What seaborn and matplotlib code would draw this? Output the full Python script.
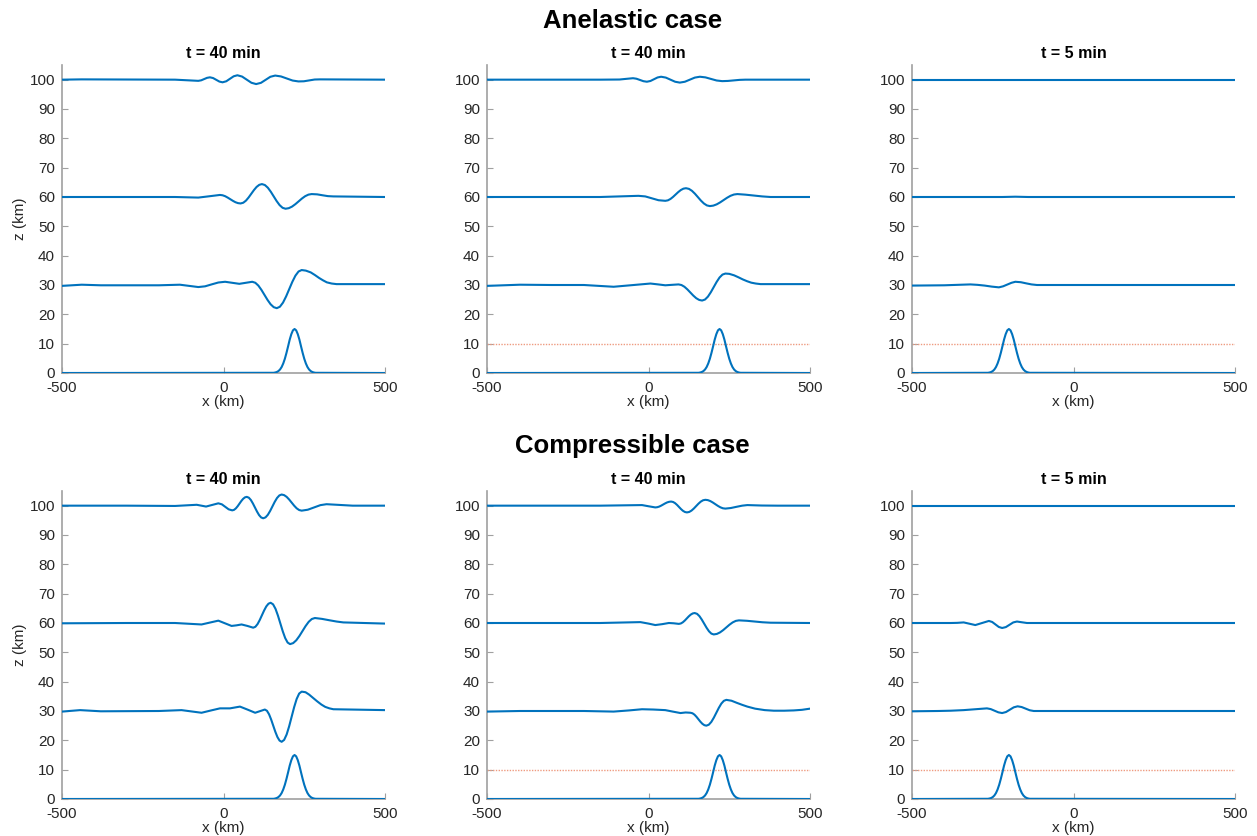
import matplotlib
matplotlib.use("Agg")
import matplotlib.pyplot as plt
import seaborn as sns

# ---------------------------------------------------------------------------
# Mountain profile (terrain height, km) at the two output times
mtn40_x = [-500, 155, 160, 165, 170, 175, 180, 185, 190, 195, 200, 205, 210, 215, 220,
           225, 230, 235, 240, 245, 250, 255, 260, 265, 270, 275, 280, 285, 500]
mtn40_z = [0.0, 0.07, 0.17, 0.34, 0.66, 1.19, 2.03, 3.26, 4.87, 6.87, 9.10, 11.39, 13.24, 14.54,
           15.0, 14.54, 13.24, 11.39, 9.10, 6.87, 4.87, 3.26, 2.03, 1.19, 0.66, 0.34, 0.17, 0.07, 0.0]
mtn5_x = [-500, -265, -260, -255, -250, -245, -240, -235, -230, -225, -220, -215, -210, -205,
          -200, -195, -190, -185, -180, -175, -170, -165, -160, -155, -150, -145, -140, -135, 500]
mtn5_z = [0.0, 0.07, 0.17, 0.34, 0.66, 1.19, 2.03, 3.26, 4.87, 6.87, 9.10, 11.39, 13.24, 14.54,
          15.0, 14.54, 13.24, 11.39, 9.10, 6.87, 4.87, 3.26, 2.03, 1.19, 0.66, 0.34, 0.17, 0.07, 0.0]

# Reference level shown as a dotted line (km)
ref_level = 10.0

# ---------------------------------------------------------------------------
# Anelastic, panel 1 (t = 40 min)
an1_x100 = [-500, -440, -150, -78, -69, -60, -51, -42, -32.25, -22.5, -12.75, -3, 8.5, 20, 31.5,
            43, 57.5, 72, 86.5, 101, 116, 130.5, 145, 160, 178, 196, 214, 232, 248.75, 265.5,
            282.25, 299, 500]
an1_z100 = [100.0, 100.1, 100.0, 99.6, 99.78, 100.2, 100.62, 100.8, 100.55, 99.95, 99.35, 99.1,
            99.45, 100.3, 101.15, 101.5, 101.06, 100.0, 98.94, 98.5, 98.92, 99.95, 100.98, 101.4,
            101.1, 100.4, 99.7, 99.4, 99.45, 99.75, 100.05, 100.1, 100.0]
an1_x60 = [-500, -300, -150, -78, -44, -11, -3, 5, 13, 21, 29, 37, 45, 53, 61.25, 69.5, 77.75, 86,
           94.25, 102.5, 110.75, 119, 128.1, 137.25, 146.4, 155.5, 164.6, 173.75, 182.9, 192,
           202.1, 212.25, 222.4, 232.5, 242.6, 252.75, 262.9, 273, 290, 306, 323, 340, 500]
an1_z60 = [60.0, 60.0, 60.0, 59.8, 60.25, 60.7, 60.59, 60.28, 59.8, 59.25, 58.7, 58.22, 57.91,
           57.8, 58.05, 58.76, 59.84, 61.1, 62.36, 63.44, 64.15, 64.4, 64.08, 63.17, 61.8, 60.2,
           58.6, 57.23, 56.32, 56.0, 56.19, 56.73, 57.55, 58.5, 59.46, 60.27, 60.81, 61.0, 60.9,
           60.6, 60.3, 60.2, 60.0]
an1_x30 = [-500, -439, -380, -200, -135, -78, -57, -37, -16, 5, 27, 49, 69, 89, 98.5, 108, 117.5,
           127, 136.5, 146, 155.5, 165, 174.6, 184.25, 193.9, 203.5, 213.1, 222.75, 232.4, 242,
           255, 270, 283, 296, 308, 320, 335, 350, 500]
an1_z30 = [29.7, 30.1, 29.9, 29.9, 30.1, 29.3, 29.55, 30.2, 30.85, 31.1, 30.75, 30.4, 30.75, 31.1,
           30.76, 29.79, 28.32, 26.6, 24.88, 23.41, 22.44, 22.1, 22.59, 24.0, 26.12, 28.6, 31.08,
           33.2, 34.61, 35.1, 34.9, 34.3, 33.4, 32.4, 31.6, 30.9, 30.5, 30.3, 30.3]

# Anelastic, panel 2 (t = 40 min)
an2_x100 = [-500, -150, -90, -48, -37.25, -26.5, -15.75, -5, 6, 17, 28, 39, 53.5, 68, 82.5, 97,
            112.5, 128, 143.5, 159, 176.25, 193.5, 210.75, 228, 246, 264, 282, 300, 500]
an2_z100 = [100.0, 100.0, 100.05, 100.5, 100.32, 99.9, 99.48, 99.3, 99.55, 100.15, 100.75, 101.0,
            100.71, 100.0, 99.29, 99.0, 99.29, 100.0, 100.71, 101.0, 100.78, 100.25, 99.72, 99.5,
            99.57, 99.75, 99.93, 100.0, 100.0]
an2_x60 = [-500, -150, -31, -10, 10.5, 31, 52, 60, 68, 76, 84, 92, 100, 108, 116, 125.25, 134.5,
           143.75, 153, 162.25, 171.5, 180.75, 190, 200.6, 211.25, 221.9, 232.5, 243.1, 253.75,
           264.4, 275, 300, 326, 352, 378, 500]
an2_z60 = [60.0, 60.0, 60.4, 60.2, 59.55, 58.9, 58.7, 58.86, 59.33, 60.03, 60.85, 61.67, 62.37,
           62.84, 63.0, 62.77, 62.11, 61.12, 59.95, 58.78, 57.79, 57.13, 56.9, 57.06, 57.5, 58.17,
           58.95, 59.73, 60.4, 60.84, 61.0, 60.8, 60.5, 60.2, 60.0, 60.0]
an2_x30 = [-500, -398, -300, -200, -108, -51, 6, 30, 52, 72, 93, 102.1, 111.25, 120.4, 129.5,
           138.6, 147.75, 156.9, 166, 175, 184, 193, 202, 211, 220, 229, 238, 250, 265, 279, 292,
           305, 318, 332, 347, 500]
an2_z30 = [29.7, 30.1, 30.0, 30.0, 29.4, 29.95, 30.5, 30.2, 29.9, 30.05, 30.2, 29.99, 29.4, 28.5,
           27.45, 26.4, 25.5, 24.91, 24.7, 25.05, 26.04, 27.54, 29.3, 31.06, 32.56, 33.55, 33.9,
           33.8, 33.3, 32.6, 31.9, 31.3, 30.8, 30.5, 30.3, 30.3]

# Anelastic, panel 3 (t = 5 min)
an3_x100 = [-500, 500]
an3_z100 = [100.0, 100.0]
an3_x60 = [-500, -220, -180, -140, 500]
an3_z60 = [60.0, 60.0, 60.1, 60.0, 60.0]
an3_x30 = [-500, -400, -360, -319, -297, -275, -253, -231, -218, -205, -192, -180, -163, -146,
           -130, -113, 500]
an3_z30 = [29.8, 29.9, 30.05, 30.2, 30.05, 29.8, 29.45, 29.2, 29.55, 30.15, 30.75, 31.1, 30.95,
           30.55, 30.2, 30.0, 30.0]

# ---------------------------------------------------------------------------
# Compressible, panel 1 (t = 40 min)
co1_x100 = [-500, -300, -150, -83, -54, -35, -16, -5, 5.5, 16, 27, 32.6, 38.25, 43.9, 49.5, 55.1,
            60.75, 66.4, 72, 78.4, 84.75, 91.1, 97.5, 103.9, 110.25, 116.6, 123, 130.1, 137.25,
            144.4, 151.5, 158.6, 165.75, 172.9, 180, 187.75, 195.5, 203.25, 211, 218.75, 226.5,
            234.25, 242, 261, 280.5, 300, 319, 400, 500]
co1_z100 = [100.0, 100.0, 99.9, 100.3, 99.7, 100.25, 100.8, 100.45, 99.6, 98.75, 98.4, 98.57,
            99.07, 99.82, 100.7, 101.58, 102.33, 102.83, 103.0, 102.72, 101.93, 100.74, 99.35,
            97.96, 96.77, 95.98, 95.7, 96.01, 96.88, 98.2, 99.75, 101.3, 102.62, 103.49, 103.8,
            103.59, 103.0, 102.1, 101.05, 100.0, 99.1, 98.51, 98.3, 98.62, 99.4, 100.18, 100.5,
            100.0, 100.0]
co1_x60 = [-500, -300, -150, -68, -42, -16, 4.5, 25, 40, 56, 74, 92, 98.75, 105.5, 112.25, 119,
           125.75, 132.5, 139.25, 146, 153.5, 161, 168.5, 176, 183.5, 191, 198.5, 206, 215.6,
           225.25, 234.9, 244.5, 254.1, 263.75, 273.4, 283, 305, 327, 350, 371, 500]
co1_z60 = [59.9, 60.0, 60.0, 59.5, 60.15, 60.8, 59.9, 59.0, 59.2, 59.5, 59.0, 58.4, 58.72, 59.64,
           61.03, 62.65, 64.27, 65.66, 66.58, 66.9, 66.36, 64.84, 62.54, 59.85, 57.16, 54.86, 53.34,
           52.8, 53.14, 54.1, 55.55, 57.25, 58.95, 60.4, 61.36, 61.7, 61.4, 60.95, 60.5, 60.2, 59.8]
co1_x30 = [-500, -444, -380, -200, -130, -68, -40, -11, 20, 51, 75, 98, 113, 128, 134.5, 141,
           147.5, 154, 160.5, 167, 173.5, 180, 187.75, 195.5, 203.25, 211, 218.75, 226.5, 234.25,
           242, 254, 265, 278, 290, 303, 315, 328, 340, 500]
co1_z30 = [29.8, 30.3, 29.9, 30.0, 30.3, 29.4, 30.15, 30.9, 30.9, 31.5, 30.45, 29.4, 29.95, 30.5,
           30.08, 28.89, 27.1, 25.0, 22.9, 21.11, 19.92, 19.5, 20.15, 22.0, 24.78, 28.05, 31.32,
           34.1, 35.95, 36.6, 36.4, 35.6, 34.4, 33.3, 32.2, 31.4, 30.9, 30.6, 30.3]

# Compressible, panel 2 (t = 40 min)
co2_x100 = [-500, -150, -20, 0, 21, 27.1, 33.25, 39.4, 45.5, 51.6, 57.75, 63.9, 70, 76.1, 82.25,
            88.4, 94.5, 100.6, 106.75, 112.9, 119, 126.1, 133.25, 140.4, 147.5, 154.6, 161.75,
            168.9, 176, 183.75, 191.5, 199.25, 207, 214.75, 222.5, 230.25, 238, 255, 272, 290,
            306, 350, 400, 500]
co2_z100 = [100.0, 100.0, 100.2, 99.8, 99.4, 99.48, 99.69, 100.02, 100.4, 100.78, 101.11, 101.32,
            101.4, 101.26, 100.86, 100.26, 99.55, 98.84, 98.24, 97.84, 97.7, 97.86, 98.33, 99.03,
            99.85, 100.67, 101.37, 101.84, 102.0, 101.89, 101.56, 101.07, 100.5, 99.93, 99.44,
            99.11, 99.0, 99.2, 99.6, 100.0, 100.2, 100.05, 100.0, 100.0]
co2_x60 = [-500, -150, -25, 0, 21, 42, 63, 78, 94, 100.1, 106.25, 112.4, 118.5, 124.6, 130.75,
           136.9, 143, 150.4, 157.75, 165.1, 172.5, 179.9, 187.25, 194.6, 202, 211.75, 221.5,
           231.25, 241, 250.75, 260.5, 270.25, 280, 305, 329, 353, 378, 500]
co2_z60 = [60.0, 60.0, 60.3, 59.8, 59.3, 59.6, 60.0, 59.9, 59.7, 59.84, 60.24, 60.84, 61.55, 62.26,
           62.86, 63.26, 63.4, 63.12, 62.33, 61.14, 59.75, 58.36, 57.17, 56.38, 56.1, 56.28, 56.8,
           57.58, 58.5, 59.42, 60.2, 60.72, 60.9, 60.75, 60.5, 60.25, 60.1, 60.0]
co2_x30 = [-500, -398, -300, -200, -108, -60, -20, 15, 52, 75, 99, 115, 130, 136.1, 142.25, 148.4,
           154.5, 160.6, 166.75, 172.9, 179, 186.75, 194.5, 202.25, 210, 217.75, 225.5, 233.25,
           241, 257, 273, 290, 306, 330, 360, 388, 420, 450, 475, 500]
co2_z30 = [29.8, 30.0, 30.0, 30.0, 29.8, 30.2, 30.6, 30.5, 30.3, 29.8, 29.3, 29.5, 29.4, 29.23,
           28.76, 28.04, 27.2, 26.36, 25.64, 25.17, 25.0, 25.33, 26.28, 27.72, 29.4, 31.08, 32.52,
           33.47, 33.8, 33.5, 32.8, 32.1, 31.5, 30.8, 30.3, 30.1, 30.1, 30.2, 30.4, 30.8]

# Compressible, panel 3 (t = 5 min)
co3_x100 = [-500, 500]
co3_z100 = [100.0, 100.0]
co3_x60 = [-500, -380, -360, -340, -322, -304, -283, -262, -251.75, -241.5, -231.25, -221, -209.5,
           -198, -186.5, -175, -160, -144, 500]
co3_z60 = [60.0, 60.0, 60.05, 60.2, 59.75, 59.3, 60.0, 60.7, 60.35, 59.5, 58.65, 58.3, 58.6,
           59.4, 60.2, 60.5, 60.25, 60.0, 60.0]
co3_x30 = [-500, -420, -380, -340, -304, -268, -256.25, -244.5, -232.75, -221, -209, -197, -185,
           -173, -160.5, -148, -135.5, -123, 500]
co3_z30 = [29.9, 30.0, 30.1, 30.3, 30.6, 30.9, 30.65, 30.1, 29.55, 29.3, 29.65, 30.45, 31.25,
           31.6, 31.35, 30.8, 30.25, 30.0, 30.0]

# Panel titles and which panels show the reference level
panel_titles = ["t = 40 min", "t = 40 min", "t = 5 min"]
row_titles = ["Anelastic case", "Compressible case"]
show_ref = [False, True, True]

x_ticks = [-500, 0, 500]
y_ticks = list(range(0, 101, 10))

# ---------------------------------------------------------------------------
rows = [
    [
        (mtn40_x, mtn40_z, [(an1_x30, an1_z30), (an1_x60, an1_z60), (an1_x100, an1_z100)]),
        (mtn40_x, mtn40_z, [(an2_x30, an2_z30), (an2_x60, an2_z60), (an2_x100, an2_z100)]),
        (mtn5_x, mtn5_z, [(an3_x30, an3_z30), (an3_x60, an3_z60), (an3_x100, an3_z100)]),
    ],
    [
        (mtn40_x, mtn40_z, [(co1_x30, co1_z30), (co1_x60, co1_z60), (co1_x100, co1_z100)]),
        (mtn40_x, mtn40_z, [(co2_x30, co2_z30), (co2_x60, co2_z60), (co2_x100, co2_z100)]),
        (mtn5_x, mtn5_z, [(co3_x30, co3_z30), (co3_x60, co3_z60), (co3_x100, co3_z100)]),
    ],
]

sns.set_theme(style="ticks")
plt.rcParams["font.family"] = ["Liberation Sans", "DejaVu Sans"]

LINE = "#0072BD"
REF = "#EE9B80"
AXIS = "#A0A0A0"
TEXT = "#262626"

fig = plt.figure(figsize=(12.57, 8.36), dpi=100)

col_left = [62 / 1257, 487 / 1257, 912 / 1257]
ax_w = 323 / 1257
ax_h = 308 / 836
row_bottom = [1 - 373 / 836, 1 - 799 / 836]
row_title_y = [1 - 21 / 836, 1 - 446 / 836]

for r, row in enumerate(rows):
    fig.text(0.503, row_title_y[r], row_titles[r], ha="center", va="center",
             fontsize=18.5, fontweight="bold", color="black")
    for c, (mx, mz, isentropes) in enumerate(row):
        ax = fig.add_axes([col_left[c], row_bottom[r], ax_w, ax_h])
        if show_ref[c]:
            ax.axhline(ref_level, color=REF, lw=1.0, ls=(0, (1, 1)), zorder=1)
        for xs, zs in isentropes:
            sns.lineplot(x=xs, y=zs, ax=ax, color=LINE, lw=1.5, estimator=None,
                         sort=False, zorder=3)
        sns.lineplot(x=mx, y=mz, ax=ax, color=LINE, lw=1.5, estimator=None,
                     sort=False, zorder=3)

        ax.set_xlim(-500, 500)
        ax.set_ylim(0, 105)
        ax.set_xticks(x_ticks)
        ax.set_xticklabels(["-500", "0", "500"])
        ax.set_yticks(y_ticks)
        ax.tick_params(direction="in", length=4, width=0.8, color=AXIS,
                       labelsize=11, labelcolor=TEXT)
        ax.tick_params(axis="x", pad=6)
        ax.tick_params(axis="y", pad=5)
        for side in ("top", "right"):
            ax.spines[side].set_visible(False)
        for side in ("left", "bottom"):
            ax.spines[side].set_color(AXIS)
            ax.spines[side].set_linewidth(1.2)
        ax.set_xlabel("x (km)", fontsize=11, color=TEXT, labelpad=0)
        if c == 0:
            ax.set_ylabel("z (km)", fontsize=11, color=TEXT, labelpad=2)
        else:
            ax.set_ylabel("")
        ax.set_title(panel_titles[c], fontsize=11.5, fontweight="bold",
                     color="black", pad=5)

fig.savefig("out.png", dpi=100, facecolor="white")
